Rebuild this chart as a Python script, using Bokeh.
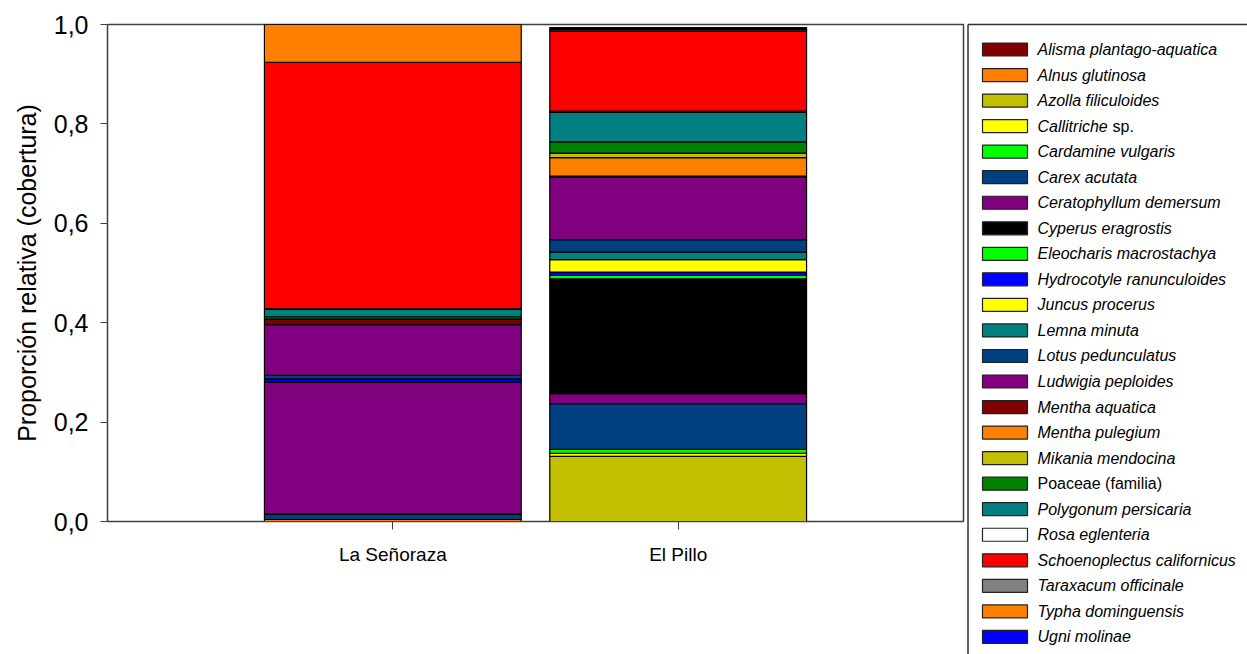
from bokeh.plotting import figure
from bokeh.models import ColumnDataSource, FactorRange, Range1d, FixedTicker, CustomJSTickFormatter
from bokeh.layouts import row
from bokeh.core.properties import value
from bokeh.embed import file_html
from bokeh.resources import INLINE

# ---------------- data ----------------
sites = ["La Señoraza", "El Pillo"]

species = [
    "Alisma plantago-aquatica", "Alnus glutinosa", "Azolla filiculoides", "Callitriche sp.",
    "Cardamine vulgaris", "Carex acutata", "Ceratophyllum demersum", "Cyperus eragrostis",
    "Eleocharis macrostachya", "Hydrocotyle ranunculoides", "Juncus procerus", "Lemna minuta",
    "Lotus pedunculatus", "Ludwigia peploides", "Mentha aquatica", "Mentha pulegium",
    "Mikania mendocina", "Poaceae (familia)", "Polygonum persicaria", "Rosa eglenteria",
    "Schoenoplectus californicus", "Taraxacum officinale", "Typha dominguensis", "Ugni molinae",
]

senoraza = [0.000, 0.004, 0.000, 0.000, 0.000, 0.011, 0.265, 0.000,
            0.000, 0.007, 0.000, 0.000, 0.007, 0.102, 0.011, 0.000,
            0.000, 0.005, 0.016, 0.000, 0.496, 0.000, 0.076, 0.000]

pillo = [0.000, 0.000, 0.131, 0.006, 0.008, 0.092, 0.020, 0.231,
         0.007, 0.007, 0.025, 0.015, 0.025, 0.126, 0.002, 0.037,
         0.009, 0.023, 0.059, 0.003, 0.161, 0.003, 0.002, 0.002]

y_ticks = [0.0, 0.2, 0.4, 0.6, 0.8, 1.0]

# ---------------- styles ----------------
colors = ["#800000", "#FF8000", "#C0C000", "#FFFF00", "#00FF00", "#004080", "#800080", "#000000",
          "#00FF00", "#0000FF", "#FFFF00", "#008080", "#004080", "#800080", "#800000", "#FF8000",
          "#C0C000", "#008000", "#008080", "#FFFFFF", "#FF0000", "#808080", "#FF8000", "#0000FF"]

FONT = "Liberation Sans"

data = {"site": sites}
for i, sp in enumerate(species):
    data[sp] = [senoraza[i], pillo[i]]
source = ColumnDataSource(data)

p = figure(
    x_range=FactorRange(*sites, range_padding=0.5, range_padding_units="absolute"),
    y_range=Range1d(0, 1),
    width=966, height=654,
    min_border_left=107, min_border_right=3, min_border_top=24, min_border_bottom=133,
    output_backend="svg", toolbar_location=None,
)
p.frame_align = False

p.vbar_stack(stackers=species, x="site", width=0.9, source=source,
             fill_color=colors, line_color="black", line_width=1.2)

p.xgrid.grid_line_color = None
p.ygrid.grid_line_color = None
p.outline_line_color = "#404040"
p.outline_line_width = 1.5
p.background_fill_color = "white"
p.border_fill_color = "white"

p.yaxis.ticker = FixedTicker(ticks=y_ticks)
p.yaxis.formatter = CustomJSTickFormatter(code="return tick.toFixed(1).replace('.', ',');")
p.yaxis.minor_tick_line_color = None
p.yaxis.major_tick_in = 0
p.yaxis.major_tick_out = 7
p.yaxis.major_label_standoff = 12
p.yaxis.major_label_text_font = FONT
p.yaxis.major_label_text_font_size = "25px"
p.yaxis.major_label_text_color = "black"
p.yaxis.axis_label = "Proporción relativa (cobertura)"
p.yaxis.axis_label_text_font = FONT
p.yaxis.axis_label_text_font_size = "25px"
p.yaxis.axis_label_text_font_style = "normal"
p.yaxis.axis_label_text_color = "black"
p.yaxis.axis_label_standoff = 10
p.yaxis.axis_line_color = "#404040"
p.yaxis.major_tick_line_color = "#404040"

p.xaxis.major_tick_in = 0
p.xaxis.major_tick_out = 8
p.xaxis.major_label_standoff = 14
p.xaxis.major_label_text_font = FONT
p.xaxis.major_label_text_font_size = "19px"
p.xaxis.major_label_text_color = "black"
p.xaxis.axis_line_color = "#404040"
p.xaxis.major_tick_line_color = "#404040"
p.xaxis.minor_tick_line_color = None

# ---------------- legend panel ----------------
lg = figure(width=281, height=654, x_range=Range1d(0, 281), y_range=Range1d(654, 0),
            x_axis_type=None, y_axis_type=None, min_border=0,
            output_backend="svg", toolbar_location=None)
lg.frame_align = False
lg.outline_line_color = None
lg.background_fill_color = "white"
lg.border_fill_color = "white"

# box border (top and left edges)
lg.segment(x0=[1.5, 1.5], y0=[24, 24], x1=[281, 1.5], y1=[24, 654],
           line_color="#333333", line_width=1.5)

row_y = [49 + 25.54 * i for i in range(len(species))]
lg.rect(x=[38.5] * len(species), y=row_y, width=45, height=13,
        fill_color=colors, line_color="#222222", line_width=1.2)

ital_x, ital_y, ital_t = [], [], []
norm_x, norm_y, norm_t = [], [], []
for sp, yy in zip(species, row_y):
    if sp == "Callitriche sp.":
        ital_x.append(71); ital_y.append(yy); ital_t.append("Callitriche")
        norm_x.append(146); norm_y.append(yy); norm_t.append("sp.")
    elif sp == "Poaceae (familia)":
        norm_x.append(71); norm_y.append(yy); norm_t.append(sp)
    else:
        ital_x.append(71); ital_y.append(yy); ital_t.append(sp)

lg.text(x=ital_x, y=ital_y, text=ital_t, text_font=value(FONT), text_font_size="16px",
        text_font_style="italic", text_baseline="middle", text_align="left", text_color="black")
lg.text(x=norm_x, y=norm_y, text=norm_t, text_font=value(FONT), text_font_size="16px",
        text_font_style="normal", text_baseline="middle", text_align="left", text_color="black")

layout = row(p, lg, spacing=0)
open("out.html", "w").write(file_html(layout, INLINE))
